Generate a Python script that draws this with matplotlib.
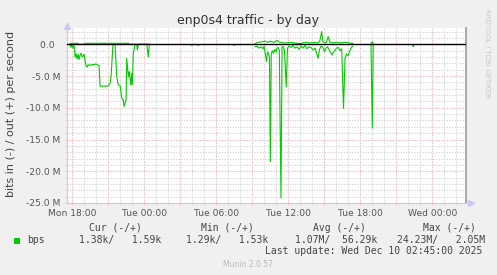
import numpy as np
import matplotlib
matplotlib.use("Agg")
import matplotlib.pyplot as plt
from matplotlib.patches import Rectangle

nan = np.nan
# time in hours since Mon 00:00; values in Mbit/s
in_hours = [17.81, 17.89, 17.97, 18.06, 18.14, 18.23, 18.31, 18.39, 18.48, 18.56, 18.64, 18.73,
            18.81, 18.89, 18.98, 19.06, 19.14, 19.23, 19.31, 19.39, 19.48, 19.64, 19.81, 19.98,
            20.14, 20.23, 20.31, 20.48, 20.73, 20.98, 21.06, 21.14, 21.23, 21.31, 21.39, 21.56,
            21.70, 21.83, 21.98, 22.12, 22.25, 22.31, 22.48, 22.53, 22.67, 22.75, 22.87, 22.95,
            23.00, 23.08, 23.23, 23.37, 23.42, 23.50, 24.20, 24.27, 24.33, 24.42, 24.50,
            27.89, 28.02, 28.10, 28.43, 28.56, 28.65, 31.43, 31.56, 31.65,
            33.23, 33.39, 33.56, 33.73, 33.89, 33.98, 34.10, 34.18, 34.27, 34.35, 34.43, 34.50,
            34.58, 34.68, 34.77, 34.89, 34.98, 35.06, 35.17, 35.25, 35.39, 35.48, 35.56, 35.68,
            35.83, 35.93, 36.06, 36.23, 36.39, 36.56, 36.73, 36.89, 37.06, 37.23, 37.39, 37.56,
            37.73, 37.89, 38.06, 38.23, 38.37, 38.48, 38.60, 38.73, 38.89, 39.02, 39.14, 39.27,
            39.39, 39.52, 39.64, 39.77, 39.89, 40.02, 40.18, 40.31, 40.45, 40.60, 40.73, 40.85,
            40.98, 41.10, 41.23, 41.35, 41.45,
            42.89, 43.00, 43.08, 43.15,
            46.35, 46.42, 46.48]
in_mbps = [-0.1, -0.5, 0.0, -0.6, -0.2, -2.0, -1.5, -2.3, -1.6, -2.4, -1.7, -1.4,
           -2.0, -1.8, -1.6, -2.6, -3.4, -3.6, -3.2, -3.3, -3.3, -3.2, -3.2, -3.1,
           -3.3, -3.4, -6.6, -6.6, -6.6, -6.6, -6.4, -6.2, -5.0, -2.5, 0.0, 0.0,
           -5.1, -6.4, -6.5, -8.5, -8.8, -9.8, -8.8, -2.2, -5.1, -4.3, -6.4, -4.6,
           -6.3, -1.5, 0.0, -0.1, -0.9, 0.0, 0.0, -1.0, -2.0, 0.0, nan,
           -0.15, -0.15, nan, -0.15, -0.15, nan, -0.15, -0.15, nan,
           -0.4, -0.3, -0.6, -0.4, -0.7, -0.3, -1.8, -2.7, -1.2, -1.5, -2.0, -18.5,
           -1.5, -1.0, -1.4, -0.8, -1.2, -0.6, -0.5, -1.0, -24.2, -0.5, -0.3, -1.0,
           -6.7, -0.6, -0.3, -0.5, -0.2, -0.6, -0.4, -0.8, -0.3, -0.6, -0.2, -0.7,
           -0.4, -0.5, -0.9, -0.6, -1.5, -2.2, -0.8, -0.3, -0.5, -1.2, -0.6, -0.4,
           -0.8, -1.3, -1.7, -1.2, -1.0, -0.6, -0.5, -1.0, -0.7, -10.1, -2.2, -1.5,
           -1.8, -1.2, -0.6, -0.3, nan,
           -0.1, -13.2, -0.1, nan,
           -0.1, -0.4, -0.1]

out_hours = [17.81, 18.48, 18.56, 18.98, 19.06, 22.67, 22.75, 24.42, 24.50,
             33.23, 33.48, 33.81, 34.06, 34.31, 34.48, 34.81, 35.06, 35.31, 35.73, 36.14,
             36.56, 36.98, 37.39, 37.81, 38.23, 38.48, 38.64, 38.78, 38.89, 39.14, 39.33,
             39.48, 39.73, 39.98, 40.31, 40.73, 41.14, 41.39, 41.45,
             42.89, 43.00, 43.08]
out_mbps = [0.15, 0.15, 0.02, 0.02, 0.15, 0.15, 0.02, 0.02, nan,
            0.1, 0.3, 0.4, 0.5, 0.3, 0.5, 0.3, 0.6, 0.3, 0.2, 0.3,
            0.2, 0.1, 0.3, 0.2, 0.3, 0.2, 0.6, 2.0, 0.4, 0.2, 1.2,
            0.3, 0.2, 0.3, 0.2, 0.3, 0.2, 0.1, nan,
            0.1, 0.4, 0.1]

x_tick_hours = [18, 24, 30, 36, 42, 48]
x_tick_labels = ["Mon 18:00", "Tue 00:00", "Tue 06:00", "Tue 12:00", "Tue 18:00", "Wed 00:00"]
y_ticks = [0, -5, -10, -15, -20, -25]
y_tick_labels = ["0.0  ", "-5.0 M", "-10.0 M", "-15.0 M", "-20.0 M", "-25.0 M"]

legend_headers = ["Cur (-/+)", "Min (-/+)", "Avg (-/+)", "Max (-/+)"]
legend_values = ["1.38k/   1.59k", "1.29k/   1.53k", "1.07M/  56.29k", "24.23M/   2.05M"]
series_name = "bps"
last_update = "Last update: Wed Dec 10 02:45:00 2025"

W, H = 497, 275
fig = plt.figure(figsize=(W / 100, H / 100), dpi=100)
fig.patch.set_facecolor("#f0f0f0")

def fx(x):
    return x / W

def fy(y):
    return 1 - y / H

L, R, T, B = 66.7, 466.0, 28.4, 203.0
ax = fig.add_axes([fx(L), fy(B), (R - L) / W, (B - T) / H])
ax.set_facecolor("white")
ax.set_xlim(17.53, 50.81)
ax.set_ylim(-25, 2.5)

green = "#00cc00"
ax.plot(in_hours, in_mbps, color=green, lw=0.8, zorder=3)
ax.plot(out_hours, out_mbps, color=green, lw=0.8, zorder=3)
ax.axhline(0, color="black", lw=1.0, zorder=4)

# grid
ax.set_xticks(np.arange(18, 51, 3))
ax.set_xticks(np.arange(18, 51, 1), minor=True)
ax.set_yticks(np.arange(-25, 2.6, 5))
ax.set_yticks(np.arange(-25, 2.6, 1), minor=True)
ax.grid(which="minor", color="#d6d6d6", lw=0.75, linestyle=(0, (1.3, 1.3)), zorder=1)
ax.grid(which="major", color="#f0b8b8", lw=0.75, linestyle=(0, (1.3, 1.3)), zorder=2)

xlabels = []
for t in np.arange(18, 51, 3):
    xlabels.append(x_tick_labels[x_tick_hours.index(t)] if t in x_tick_hours else "")
ax.set_xticklabels(xlabels)
ax.set_yticks(y_ticks)
ax.set_yticklabels(y_tick_labels)
ax.tick_params(which="both", length=1.5, width=0.6, colors="#555555", labelsize=6.6)
ax.tick_params(axis="x", which="major", color="#f0b8b8", pad=2.6)
ax.tick_params(axis="y", which="major", color="#f0b8b8", pad=3.0)
ax.tick_params(which="minor", color="#d6d6d6")
for lab in ax.get_xticklabels() + ax.get_yticklabels():
    lab.set_color("#555555")

ax.spines["top"].set_visible(False)
ax.spines["right"].set_color("#999999")
ax.spines["right"].set_linewidth(1.2)
ax.spines["left"].set_color("#c8c8f0")
ax.spines["bottom"].set_color("#c8c8f0")
ax.spines["left"].set_linewidth(0.8)
ax.spines["bottom"].set_linewidth(0.8)
# axis arrows
ax.plot([0], [1.015], marker="^", ms=5, color="#c8c8f0", transform=ax.transAxes, clip_on=False, zorder=5)
ax.plot([1.012], [0], marker=">", ms=5, color="#c8c8f0", transform=ax.transAxes, clip_on=False, zorder=5)

# texts
fig.text(fx(248), fy(24), "enp0s4 traffic - by day", ha="center", va="baseline",
         fontsize=9, color="#333333")
fig.text(fx(11), fy(114), "bits in (-) / out (+) per second", ha="center", va="center",
         rotation=90, fontsize=8, color="#444444")
fig.text(fx(487.5), fy(53), "RRDTOOL / TOBI OETIKER", ha="center", va="center",
         rotation=270, fontsize=5, color="#c8c8c8")

mono = "DejaVu Sans Mono"
hx = [89, 201, 312.7, 422.7]
for x, t in zip(hx, legend_headers):
    fig.text(fx(x), fy(231), t, ha="left", va="baseline", fontsize=7.05, family=mono, color="#444444")
vx = [78.7, 186.3, 295, 396.7]
for x, t in zip(vx, legend_values):
    fig.text(fx(x), fy(243.3), t, ha="left", va="baseline", fontsize=7.05, family=mono, color="#444444")
fig.text(fx(27), fy(243.3), series_name, ha="left", va="baseline", fontsize=7.05, family=mono, color="#444444")
fig.patches.append(Rectangle((fx(14), fy(243.5)), 6 / W, 6 / H, transform=fig.transFigure,
                             facecolor=green, edgecolor="none"))
fig.text(fx(482.7), fy(254.3), last_update, ha="right", va="baseline", fontsize=7.05,
         family=mono, color="#444444")
fig.text(fx(248), fy(266.7), "Munin 2.0.57", ha="center", va="baseline", fontsize=5.5,
         color="#bbbbbb")

fig.savefig("out.png", dpi=100, facecolor=fig.get_facecolor())
